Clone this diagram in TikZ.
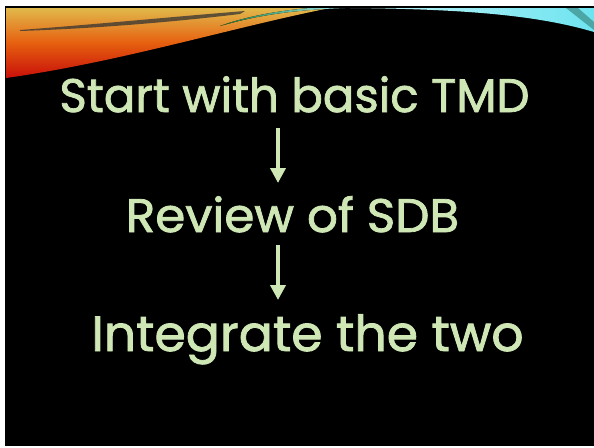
\documentclass[tikz,border=0pt]{standalone}
\usepackage{fontspec}
\setmainfont{Poppins}[FakeBold=1.6]
\usetikzlibrary{arrows.meta}
\definecolor{txtgreen}{RGB}{206,231,181}
\definecolor{swred}{RGB}{200,15,10}
\definecolor{sworange}{RGB}{230,95,15}
\definecolor{swyellow}{RGB}{225,185,75}
\definecolor{swcyan}{RGB}{110,228,240}
\definecolor{swgreen}{RGB}{20,120,50}
\tikzset{
  title/.style={text=txtgreen, font=\fontsize{47}{50}\selectfont, anchor=base, inner sep=0pt},
  arr/.style={draw=txtgreen, line width=4pt, -{Triangle[width=15pt,length=15pt]}}
}
\begin{document}
\begin{tikzpicture}[x=1pt,y=-1pt]
\fill[white] (0,0) rectangle (594,447);
\useasboundingbox (0,0) rectangle (594,447);
\fill[black] (5,6) rectangle (594,446);
% swoosh
\fill[top color=swyellow, bottom color=swred, middle color=sworange]
  (6,8) -- (330,8) .. controls (230,28) and (120,62) .. (6,78) -- cycle;
\fill[black!80, opacity=0.75] (20,30) .. controls (100,24) and (170,17) .. (245,11)
  -- (240,14) .. controls (190,20) and (110,28) .. (20,31) -- cycle;
\fill[left color=swgreen, right color=swcyan!60!white]
  (220,26) .. controls (255,16) and (290,10) .. (345,8) -- (310,8) .. controls (275,11) and (245,17) .. (220,26) -- cycle;
\fill[left color=swcyan!40!white, right color=swcyan]
  (350,8) -- (594,8) -- (594,32) .. controls (540,16) and (470,9) .. (350,8) -- cycle;
\fill[teal!70] (566,8) -- (578,8) -- (594,22) -- (594,30) -- cycle;
% text
\node[title, xscale=0.993] (t1) at (294.5,112) {Start with basic TMD};
\node[title, xscale=1.03] (t2) at (292.5,232) {Review of SDB};
\node[title, font=\fontsize{49.5}{52}\selectfont, xscale=1.02] (t3) at (307.5,351) {Integrate the two};
\coordinate (a1s) at (278,128);
\coordinate (a1e) at (278,183);
\coordinate (a2s) at (278,245);
\coordinate (a2e) at (278,300);
\draw[arr] (a1s) -- (a1e);
\draw[arr] (a2s) -- (a2e);
\end{tikzpicture}
\end{document}
